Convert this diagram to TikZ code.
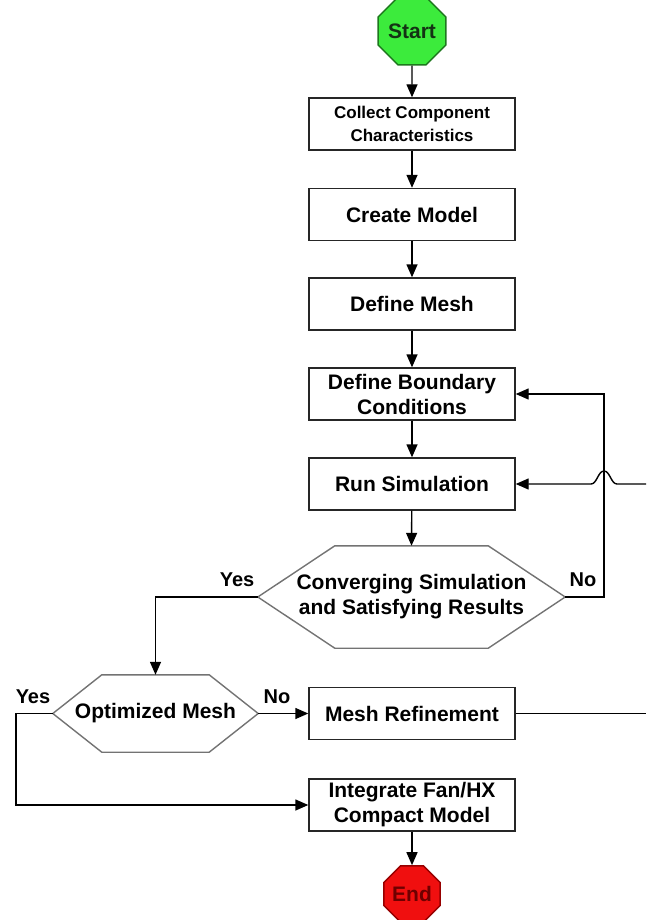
\documentclass[tikz,border=0pt]{standalone}
\usepackage{fontspec}
\setmainfont{Liberation Sans}
\usetikzlibrary{arrows.meta,shapes.geometric,calc}
\definecolor{stopgreen}{RGB}{60,235,60}
\definecolor{stopgreenb}{RGB}{30,120,30}
\definecolor{stopred}{RGB}{240,15,15}
\definecolor{stopredb}{RGB}{150,0,0}
\definecolor{starttxt}{RGB}{20,50,20}
\definecolor{endtxt}{RGB}{110,0,0}
\begin{document}
\begin{tikzpicture}[x=1pt,y=-1pt,
  box/.style={draw=black!85, line width=1.4pt, minimum width=206pt, minimum height=52pt,
    inner sep=0pt, align=center, font=\fontsize{21}{25}\selectfont\bfseries},
  hexa/.style={inner sep=0pt, align=center, font=\fontsize{21}{25}\selectfont\bfseries},
  hexline/.style={draw=black!55, line width=1.4pt},
  lbl/.style={inner sep=0pt, font=\fontsize{20}{24}\selectfont\bfseries},
  arr/.style={line width=1.4pt, -{Triangle[length=13pt,width=11pt]}},
  ln/.style={line width=1.4pt},
  oct/.style={regular polygon, regular polygon sides=8, minimum size=55pt, inner sep=0pt,
    line width=1.5pt, font=\fontsize{21}{25}\selectfont\bfseries}]
\useasboundingbox (0,0) rectangle (646,920);

\node[oct, draw=stopgreenb, fill=stopgreen, text=starttxt] (start) at (412,31) {Start};
\node[box, font=\fontsize{17}{23}\selectfont\bfseries] (collect) at (412,124) {Collect Component\\Characteristics};
\node[box] (create) at (412,214.5) {Create Model};
\node[box] (mesh) at (412,304) {Define Mesh};
\node[box] (bc) at (412,394) {Define Boundary\\Conditions};
\node[box] (run) at (412,484) {Run Simulation};
\node[hexa, minimum width=307pt, minimum height=102pt] (conv) at (411.5,597) {Converging Simulation\\and Satisfying Results};
\node[hexa, minimum width=205pt, minimum height=77pt] (opt) at (155.5,713.5) {Optimized Mesh};
\node[box] (refine) at (412,713.5) {Mesh Refinement};
\node[box] (integ) at (412,805) {Integrate Fan/HX\\Compact Model};
\node[oct, draw=stopredb, fill=stopred, text=endtxt] (end) at (412,894) {End};

\draw[hexline] (conv.west) -- ($(conv.north west)+(77,0)$) -- ($(conv.north east)+(-77,0)$)
  -- (conv.east) -- ($(conv.south east)+(-77,0)$) -- ($(conv.south west)+(77,0)$) -- cycle;
\draw[hexline] (opt.west) -- ($(opt.north west)+(49,0)$) -- ($(opt.north east)+(-49,0)$)
  -- (opt.east) -- ($(opt.south east)+(-49,0)$) -- ($(opt.south west)+(49,0)$) -- cycle;

\node[lbl] (yes1) at (237,580) {Yes};
\node[lbl] (no1) at (583,580) {No};
\node[lbl] (yes2) at (33,697) {Yes};
\node[lbl] (no2) at (277,697) {No};

\coordinate (loopx) at (604,0);
\coordinate (leftx) at (16,0);
\coordinate (edge) at (646,0);
\coordinate (hopc) at (loopx |- run.east);

\draw[arr] (start) -- (collect);
\draw[arr] (collect) -- (create);
\draw[arr] (create) -- (mesh);
\draw[arr] (mesh) -- (bc);
\draw[arr] (bc) -- (run);
\draw[arr] (run) -- (conv.north);
\draw[arr] (conv.west) -| (opt.north);
\draw[arr] (conv.east) -- (conv.east -| loopx) |- (bc.east);
\draw[arr] (hopc -| edge) -- ($(hopc)+(13,0)$)
  .. controls ($(hopc)+(7,0)$) and ($(hopc)+(6,-13)$) .. ($(hopc)+(0,-13)$)
  .. controls ($(hopc)+(-6,-13)$) and ($(hopc)+(-7,0)$) .. ($(hopc)+(-13,0)$)
  -- (run.east);
\draw[arr] (opt.east) -- (refine.west);
\draw[ln] (refine.east) -- (refine.east -| edge);
\draw[arr] (opt.west) -- (opt.west -| leftx) |- (integ.west);
\draw[arr] (integ) -- (end);
\end{tikzpicture}
\end{document}
